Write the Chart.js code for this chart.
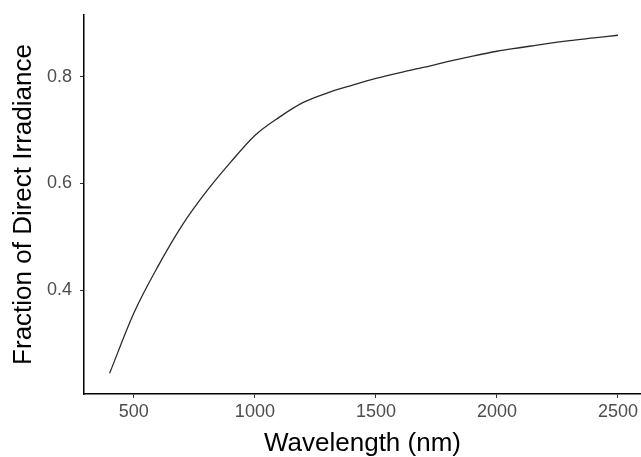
<!DOCTYPE html>
<html>
<head>
<meta charset="utf-8">
<script src="https://cdn.jsdelivr.net/npm/chart.js@4"></script>
<style>
  body { margin: 0; background: #fff; }
  canvas { display: block; }
</style>
</head>
<body>
<canvas id="myChart" width="641" height="457"></canvas>
<script>
//wavelengths (nm)
var wavelengths = [400, 500, 600, 700, 800, 900, 1000, 1100, 1200, 1300, 1400, 1500,
                   1600, 1700, 1800, 1900, 2000, 2100, 2200, 2300, 2400, 2500];

//fraction of direct irradiance at each wavelength
var fractions = [0.244, 0.357, 0.445, 0.522, 0.585, 0.640, 0.690, 0.724, 0.752, 0.770, 0.784, 0.797,
                 0.808, 0.818, 0.829, 0.839, 0.848, 0.855, 0.862, 0.868, 0.873, 0.878];

//tick labels
var xTicks = [500, 1000, 1500, 2000, 2500];
var yTicks = [0.4, 0.6, 0.8];

var fontFamily = "'Liberation Sans', Arial, sans-serif";

var points = wavelengths.map(function(w, i){
    return { x: w, y: fractions[i] };
});

var ctx = document.getElementById("myChart");

var myChart = new Chart(ctx, {
  type: 'line',
  data: {
    datasets: [{
      data: points,
      borderColor: "#2b2b2b",
      borderWidth: 1.3,
      pointRadius: 0,
      cubicInterpolationMode: 'monotone',
      fill: false
    }]
  },
  options: {
    responsive: false,
    animation: false,
    layout: { padding: { top: 15, right: 0, left: 0, bottom: 0 } },
    plugins: {
      legend: { display: false },
      tooltip: { enabled: false }
    },
    scales: {
      x: {
        type: 'linear',
        min: 294,
        max: 2595,
        afterBuildTicks: function(scale){
          scale.ticks = xTicks.map(function(v){ return { value: v }; });
        },
        afterFit: function(scale){ scale.height = 63; },
        border: { color: "#000", width: 1.5 },
        grid: { drawOnChartArea: false, tickLength: 4, color: "#333", tickColor: "#333" },
        ticks: {
          color: "#4d4d4d",
          font: { family: fontFamily, size: 18 },
          padding: 3,
          maxRotation: 0,
          callback: function(v){ return v; }
        },
        title: {
          display: true,
          text: "Wavelength (nm)",
          color: "#000",
          font: { family: fontFamily, size: 26, lineHeight: 1.0 },
          padding: { top: 0, bottom: 0 }
        }
      },
      y: {
        type: 'linear',
        min: 0.205,
        max: 0.916,
        afterBuildTicks: function(scale){
          scale.ticks = yTicks.map(function(v){ return { value: v }; });
        },
        //keep the plot top at the layout padding
        afterFit: function(scale){
          scale.width = 84;
          scale.paddingTop = 0;
          scale.paddingBottom = 0;
        },
        border: { color: "#000", width: 1.5 },
        grid: { drawOnChartArea: false, tickLength: 4, color: "#333", tickColor: "#333" },
        ticks: {
          color: "#4d4d4d",
          font: { family: fontFamily, size: 18 },
          padding: 8,
          callback: function(v){ return v.toFixed(1); }
        },
        title: {
          display: true,
          text: "Fraction of Direct Irradiance",
          color: "#000",
          font: { family: fontFamily, size: 26 },
          padding: { top: 8, bottom: 0 }
        }
      }
    }
  }
});
</script>
</body>
</html>
